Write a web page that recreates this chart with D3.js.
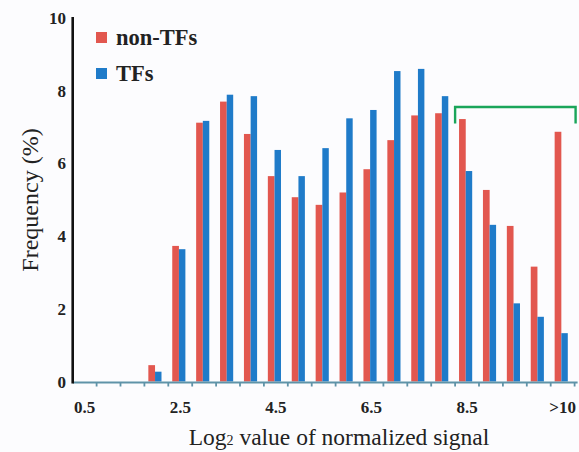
<!DOCTYPE html>
<html><head><meta charset="utf-8">
<script src="https://cdn.jsdelivr.net/npm/d3@7"></script>
<style>
html,body{margin:0;padding:0;background:#fcfcfe;}
svg{display:block;}
text{font-family:"Liberation Serif","Times New Roman",serif;fill:#222;}
</style></head>
<body>
<script>
const bins = ["0.5","1.0","1.5","2.0","2.5","3.0","3.5","4.0","4.5","5.0","5.5","6.0","6.5","7.0","7.5","8.0","8.5","9.0","9.5","10.0",">10"];
const shownLabels = ["0.5","2.5","4.5","6.5","8.5",">10"];
const nonTFs = [0,0,0,0.45,3.73,7.12,7.70,6.81,5.65,5.07,4.86,5.20,5.84,6.64,7.32,7.38,7.22,5.27,4.28,3.16,6.87];
const TFs    = [0,0,0,0.27,3.64,7.17,7.89,7.85,6.37,5.65,6.42,7.24,7.47,8.54,8.60,7.85,5.79,4.31,2.15,1.78,1.33];
const yTicks = [0,2,4,6,8,10];
const seriesNames = ["non-TFs","TFs"];
const bracket = {from:"8.5", to:">10", level:7.55, drop:0.45};

const W=579,H=452;
const colors = {"non-TFs":"#e2574f","TFs":"#1f7bc9"};
const svg = d3.select("body").append("svg").attr("width",W).attr("height",H);
svg.append("rect").attr("width",W).attr("height",H).attr("fill","#fcfcfe");

const x = d3.scaleBand().domain(bins).range([72.7,574.6]).padding(0);
const y = d3.scaleLinear().domain([0,10]).range([381.5,18]);
const bw = x.bandwidth();

// bars
const g = svg.append("g");
g.selectAll("rect.r").data(bins).join("rect")
  .attr("x",d=>x(d)+bw*0.165).attr("width",bw*0.28)
  .attr("y",(d,i)=>y(nonTFs[i])).attr("height",(d,i)=>y(0)-y(nonTFs[i]))
  .attr("fill",colors["non-TFs"]);
g.selectAll("rect.b").data(bins).join("rect")
  .attr("x",d=>x(d)+bw*0.445).attr("width",bw*0.27)
  .attr("y",(d,i)=>y(TFs[i])).attr("height",(d,i)=>y(0)-y(TFs[i]))
  .attr("fill",colors["TFs"]);

// x axis
const axisColor="#5f93a8";
svg.append("line").attr("x1",x.range()[0]).attr("x2",x.range()[1]+3)
  .attr("y1",y(0)+1).attr("y2",y(0)+1).attr("stroke",axisColor).attr("stroke-width",2.2);
const bounds = bins.map(b=>x(b)).slice(1).concat([x.range()[1]]);
svg.selectAll("line.xt").data(bounds).join("line")
  .attr("x1",d=>d).attr("x2",d=>d).attr("y1",y(0)+1).attr("y2",y(0)+5)
  .attr("stroke",axisColor).attr("stroke-width",1.8);
svg.selectAll("text.xl").data(shownLabels).join("text")
  .attr("x",d=>x(d)+bw/2).attr("y",413)
  .attr("text-anchor","middle").attr("font-size",17).attr("font-weight","bold")
  .text(d=>d);

// y axis
svg.append("line").attr("x1",72.7).attr("x2",72.7).attr("y1",y(10)-1).attr("y2",y(0)+2)
  .attr("stroke","#111").attr("stroke-width",2.6);
svg.selectAll("text.yl").data(yTicks).join("text")
  .attr("x",66).attr("y",d=>y(d)+6)
  .attr("text-anchor","end").attr("font-size",17).attr("font-weight","bold")
  .text(d=>d);

// axis titles
const xt = svg.append("text").attr("x",339).attr("y",445).attr("text-anchor","middle")
  .attr("font-size",23.5);
xt.append("tspan").text("Log");
xt.append("tspan").attr("font-size",14).text("2");
xt.append("tspan").text(" value of normalized signal");
svg.append("text").attr("transform","translate(38,200) rotate(-90)")
  .attr("text-anchor","middle").attr("font-size",24).text("Frequency (%)");

// legend
const lg = svg.append("g");
seriesNames.forEach((s,i)=>{
  const yy = 32 + i*36;
  lg.append("rect").attr("x",96).attr("y",yy).attr("width",11).attr("height",11).attr("fill",colors[s]);
  lg.append("text").attr("x",116).attr("y",yy+13).attr("font-size",22.5).attr("font-weight","bold").text(s);
});

// bracket
const bx1 = x(bracket.from), bx2 = x(bracket.to)+bw+1;
svg.append("path")
  .attr("d",`M${bx1},${y(bracket.level-bracket.drop)}V${y(bracket.level)}H${bx2}V${y(bracket.level-bracket.drop)}`)
  .attr("fill","none").attr("stroke","#1aa55a").attr("stroke-width",2.4);
</script>
</body></html>
